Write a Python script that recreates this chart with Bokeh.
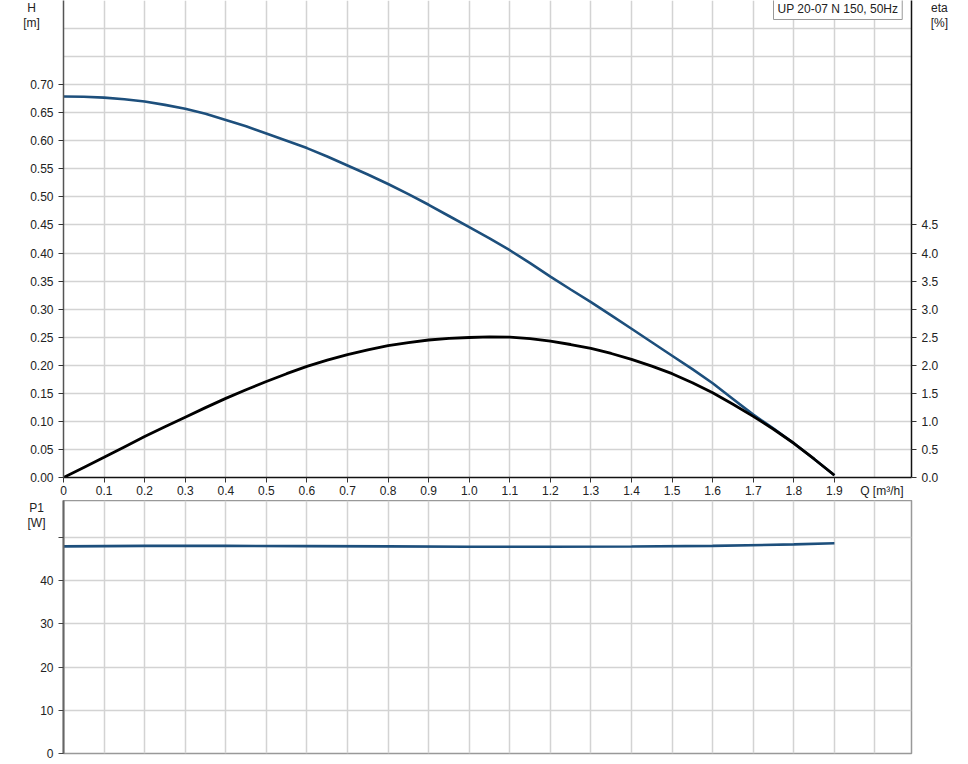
from bokeh.plotting import figure
from bokeh.models import (LinearAxis, Range1d, FixedTicker, NumeralTickFormatter, Label)
from bokeh.layouts import column
from bokeh.embed import file_html
from bokeh.resources import INLINE

# ---------------- data ----------------
Q = [0.0, 0.05, 0.1, 0.15, 0.2, 0.25, 0.3, 0.35, 0.4, 0.45, 0.5, 0.55, 0.6, 0.65,
     0.7, 0.75, 0.8, 0.85, 0.9, 0.95, 1.0, 1.05, 1.1, 1.15, 1.2, 1.25, 1.3, 1.35,
     1.4, 1.45, 1.5, 1.55, 1.6, 1.65, 1.7, 1.75, 1.8, 1.85, 1.9]
H = [0.679, 0.6785, 0.677, 0.674, 0.670, 0.664, 0.657, 0.648, 0.637, 0.626, 0.613,
     0.600, 0.587, 0.572, 0.556, 0.540, 0.523, 0.505, 0.486, 0.466, 0.446, 0.426,
     0.405, 0.382, 0.358, 0.335, 0.3125, 0.289, 0.265, 0.241, 0.217, 0.193, 0.168,
     0.140, 0.112, 0.087, 0.061, 0.033, 0.004]
ETA = [0.0, 0.18, 0.36, 0.545, 0.73, 0.905, 1.075, 1.245, 1.41, 1.565, 1.71,
       1.85, 1.98, 2.09, 2.19, 2.275, 2.35, 2.405, 2.45, 2.48, 2.495, 2.505,
       2.50, 2.475, 2.43, 2.37, 2.30, 2.21, 2.105, 1.985, 1.85, 1.69, 1.51,
       1.305, 1.09, 0.86, 0.61, 0.33, 0.04]
Q_P = [0.0, 0.2, 0.4, 0.6, 0.8, 1.0, 1.2, 1.4, 1.6, 1.8, 1.9]
P1 = [47.9, 48.0, 48.0, 47.95, 47.9, 47.8, 47.8, 47.85, 48.0, 48.35, 48.6]

Q_TICKS = [0.0, 0.1, 0.2, 0.3, 0.4, 0.5, 0.6, 0.7, 0.8, 0.9,
           1.0, 1.1, 1.2, 1.3, 1.4, 1.5, 1.6, 1.7, 1.8, 1.9]
Q_TICK_LABELS = ["0", "0.1", "0.2", "0.3", "0.4", "0.5", "0.6", "0.7", "0.8", "0.9",
                 "1.0", "1.1", "1.2", "1.3", "1.4", "1.5", "1.6", "1.7", "1.8", "1.9"]
Q_GRID = Q_TICKS + [2.0]
Q_NAME = "Q [m\u00b3/h]"
Q_NAME_AT = 2.017
H_TICKS = [0.0, 0.05, 0.1, 0.15, 0.2, 0.25, 0.3, 0.35, 0.4, 0.45, 0.5, 0.55, 0.6, 0.65, 0.7]
H_GRID = H_TICKS + [0.75, 0.8, 0.85]
ETA_TICKS = [0.0, 0.5, 1.0, 1.5, 2.0, 2.5, 3.0, 3.5, 4.0, 4.5]
P1_TICKS = [0, 10, 20, 30, 40, 50]
P1_TICK_LABELS = ["0", "10", "20", "30", "40", ""]
TITLE = "UP 20-07 N 150, 50Hz"
H_NAME = "H\n[m]"
ETA_NAME = "eta\n[%]"
P1_NAME = "P1\n[W]"

FONT = "Liberation Sans"
TXT = "#222222"
BLUE = "#1d4f7c"
GRID = "#d3d3d3"

# ---------------- top chart ----------------
p = figure(width=960, height=500, x_range=Range1d(0, 2.09), y_range=Range1d(0, 0.85),
           output_backend="svg", toolbar_location=None,
           min_border_left=63, min_border_right=49, min_border_top=0, min_border_bottom=23)
p.outline_line_color = None
p.background_fill_color = "white"
p.border_fill_color = "white"
p.extra_y_ranges = {"eta": Range1d(0, 8.5)}

p.xgrid.ticker = FixedTicker(ticks=Q_GRID)
p.ygrid.ticker = FixedTicker(ticks=H_GRID)
for g in (p.xgrid, p.ygrid):
    g.grid_line_color = GRID
    g.grid_line_width = 1.5

xa = p.xaxis[0]
ya = p.yaxis[0]
ya.ticker = FixedTicker(ticks=H_TICKS)
ya.formatter = NumeralTickFormatter(format="0.00")
ra = LinearAxis(y_range_name="eta", ticker=FixedTicker(ticks=ETA_TICKS),
                formatter=NumeralTickFormatter(format="0.0"))
p.add_layout(ra, "right")

for ax, col in ((xa, "#111111"), (ya, "#555555"), (ra, "#111111")):
    ax.axis_line_color = col
    ax.axis_line_width = 1.5
    ax.major_tick_line_color = "#333333"
    ax.major_tick_in = 0
    ax.major_tick_out = 5
    ax.minor_tick_line_color = None
    ax.major_label_text_font = FONT
    ax.major_label_text_font_size = "12px"
    ax.major_label_text_color = TXT
    ax.major_label_standoff = 5

# x axis: tick marks drawn as minor ticks, the quantity name sits after the last label
xa.ticker = FixedTicker(ticks=Q_TICKS + [Q_NAME_AT], minor_ticks=Q_TICKS)
overrides = {t: l for t, l in zip(Q_TICKS, Q_TICK_LABELS)}
overrides[Q_NAME_AT] = Q_NAME
xa.major_label_overrides = overrides
xa.major_tick_line_color = None
xa.minor_tick_line_color = "#333333"
xa.minor_tick_in = 0
xa.minor_tick_out = 5
xa.major_label_standoff = 1

p.line(Q, H, line_color=BLUE, line_width=2.6)
p.line(Q, ETA, y_range_name="eta", line_color="#000000", line_width=2.8)

def side_label(fig, x, y, t, side):
    fig.add_layout(Label(x=x, y=y, text=t,
                         text_font=FONT, text_font_size="12px", text_color=TXT,
                         text_align="center", text_baseline="top",
                         text_line_height=1.1), side)

side_label(p, -0.0789, 0.85, H_NAME, "left")
side_label(p, 2.1587, 0.85, ETA_NAME, "right")

p.add_layout(Label(x=710, y=469, x_units="screen", y_units="screen", text=TITLE,
                   text_font=FONT, text_font_size="12px", text_color=TXT,
                   text_align="left", text_baseline="middle",
                   border_line_color="#999999", background_fill_color="white", padding=4))

# ---------------- bottom chart ----------------
p2 = figure(width=960, height=264, x_range=p.x_range, y_range=Range1d(0, 58.5),
            output_backend="svg", toolbar_location=None,
            min_border_left=63, min_border_right=49, min_border_top=0, min_border_bottom=11)
p2.outline_line_color = "#999999"
p2.outline_line_width = 1.5
p2.xaxis.visible = False
p2.xgrid.ticker = FixedTicker(ticks=Q_GRID)
p2.ygrid.ticker = FixedTicker(ticks=P1_TICKS)
for g in (p2.xgrid, p2.ygrid):
    g.grid_line_color = GRID
    g.grid_line_width = 1.5
ya2 = p2.yaxis[0]
ya2.ticker = FixedTicker(ticks=P1_TICKS)
ya2.major_label_overrides = {t: l for t, l in zip(P1_TICKS, P1_TICK_LABELS)}
ya2.axis_line_color = "#666666"
ya2.axis_line_width = 2
ya2.major_tick_line_color = "#444444"
ya2.major_tick_in = 0
ya2.major_tick_out = 5
ya2.minor_tick_line_color = None
ya2.major_label_text_font = FONT
ya2.major_label_text_font_size = "12px"
ya2.major_label_text_color = TXT
ya2.major_label_standoff = 5

p2.line(Q_P, P1, line_color=BLUE, line_width=2.6)
side_label(p2, -0.0665, 58.5, P1_NAME, "left")

layout = column(p, p2, spacing=0)
open("out.html", "w").write(file_html(layout, INLINE))
